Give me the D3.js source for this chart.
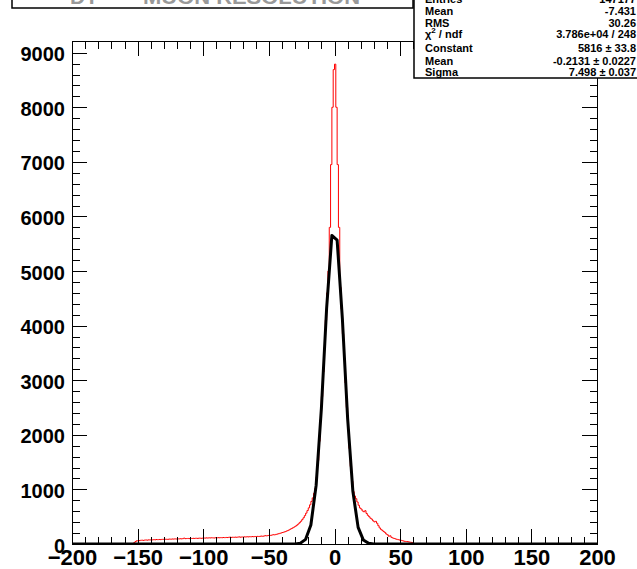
<!DOCTYPE html>
<html><head><meta charset="utf-8">
<script src="https://cdn.jsdelivr.net/npm/d3@7"></script>
<style>
body{margin:0;background:#fff}
svg{display:block}
.ax text{font-family:"Liberation Sans",Arial,sans-serif;font-weight:bold;fill:#000}
.ax line{stroke:#000;stroke-width:1;shape-rendering:crispEdges}
.ax .domain{display:none}
</style>
</head><body>
<svg id="c" width="637" height="569"></svg>
<script>
// ---- data ----
const xRange = [-200, 200];
const yRange = [0, 9214];
const xMajorTicks = [-200, -150, -100, -50, 0, 50, 100, 150, 200];
const yMajorTicks = [0, 1000, 2000, 3000, 4000, 5000, 6000, 7000, 8000, 9000];
const histStart = -155;
const binWidth = 1;
const histCounts = [
  0, 0, 25, 45, 60, 55, 62, 68, 70, 66,          // -155..-146
  72, 74, 70, 76, 73, 78, 75, 80, 77, 82,        // -145..-136
  79, 83, 80, 84, 86, 82, 88, 85, 87, 91,        // -135..-126
  88, 92, 90, 94, 91, 95, 93, 97, 94, 98,        // -125..-116
  108, 98, 100, 102, 99, 103, 101, 104, 102, 106, // -115..-106
  103, 105, 108, 104, 107, 110, 108, 112, 109, 113, // -105..-96
  111, 114, 112, 110, 115, 113, 116, 114, 117, 115, // -95..-86
  119, 116, 120, 118, 122, 126, 121, 124, 122, 126, // -85..-76
  123, 127, 130, 125, 129, 127, 131, 128, 133, 130, // -75..-66
  134, 132, 136, 133, 138, 135, 140, 137, 142, 145, // -65..-56
  141, 148, 152, 149, 156, 160, 158, 165, 170, 168, // -55..-46
  176, 182, 188, 195, 203, 210, 218, 226, 236, 246, // -45..-36
  258, 272, 285, 298, 312, 328, 345, 366, 390, 416, // -35..-26
  446, 480, 520, 565, 612, 662, 718, 780, 845, 930, // -25..-16
  1020, 1230, 1530, 1880, 2280, 2700, 3150, 3600, 4100, 4600, // -15..-6
  5000, 5800, 6950, 8000, 8690, 8790, 8000, 6950, 5800, 4700, // -5..4
  4300, 3850, 3400, 2950, 2500, 2100, 1750, 1420, 1150, 960,  // 5..14
  880, 830, 770, 710, 660, 640, 605, 590, 610, 560,   // 15..24
  525, 500, 472, 455, 425, 405, 415, 380, 335, 295,   // 25..34
  268, 250, 228, 212, 184, 168, 142, 150, 122, 110,   // 35..44
  102, 94, 86, 80, 74, 70, 62, 56, 50, 46,            // 45..54
  44, 40, 34, 30, 24                                  // 55..59
];
const fitX = [-200, -38, -34, -30, -26, -22, -18, -14, -10, -6, -2, 2, 6, 10, 14, 18, 22, 26, 30, 34, 38, 200];
const fitY = [0, 0, 0.1, 2.2, 15.7, 85, 349, 1073, 2481, 4318, 5653, 5568, 4126, 2300, 964, 304, 72, 12.9, 1.7, 0.1, 0, 0];
const statLabels = ["Entries", "Mean", "RMS", "χ2 / ndf", "Constant", "Mean", "Sigma"];
const statValues = ["147177", "-7.431", "30.26", "3.786e+04 / 248", "5816 ± 33.8", "-0.2131 ± 0.0227", "7.498 ± 0.037"];
const titleParts = ["DT", "MUON RESOLUTION"];

// ---- layout ----
const W = 637, H = 569;
const m = {left: 72, right: 40, top: 41, bottom: 25};
const svg = d3.select("#c");
const x = d3.scaleLinear().domain(xRange).range([m.left, W - m.right]);
const y = d3.scaleLinear().domain(yRange).range([H - m.bottom, m.top]);
const x0 = m.left, x1 = W - m.right, y0 = H - m.bottom, y1 = m.top;

// minor ticks
const xMinor = d3.range(xRange[0], xRange[1] + 0.001, 10).filter(v => v % 50 !== 0);
const yMinor = d3.range(0, 9200, 200).filter(v => v % 1000 !== 0);

// clip
svg.append("defs").append("clipPath").attr("id", "pc")
  .append("rect").attr("x", x0).attr("y", y1).attr("width", x1 - x0).attr("height", y0 - y1);

// histogram step path
const pts = [];
pts.push([x(xRange[0]), y(0)]);
pts.push([x(histStart), y(0)]);
histCounts.forEach((c, i) => {
  const a = histStart + i * binWidth, b = a + binWidth;
  pts.push([x(a), y(c)]);
  pts.push([x(b), y(c)]);
});
const histEnd = histStart + histCounts.length * binWidth;
pts.push([x(histEnd), y(0)]);
pts.push([x(xRange[1]), y(0)]);
svg.append("path").attr("clip-path", "url(#pc)")
  .attr("d", d3.line()(pts))
  .attr("fill", "none").attr("stroke", "#ff0000").attr("stroke-width", 1);

// fit curve
svg.append("path").attr("clip-path", "url(#pc)")
  .datum(fitX.map((v, i) => [v, fitY[i]]))
  .attr("d", d3.line().x(d => x(d[0])).y(d => y(d[1])))
  .attr("fill", "none").attr("stroke", "#000").attr("stroke-width", 3)
  .attr("stroke-linejoin", "round").attr("stroke-linecap", "butt");

// axes
function addAxis(gen, tx, ty) {
  return svg.append("g").attr("class", "ax").attr("transform", `translate(${tx},${ty})`).call(gen);
}
// bottom
const bx = addAxis(d3.axisBottom(x).tickValues(xMajorTicks).tickSize(-15).tickPadding(5).tickFormat(d3.format("d")), 0, y0);
bx.selectAll("text").style("font-size", "22px");
addAxis(d3.axisBottom(x).tickValues(xMinor).tickSize(-7.5).tickFormat(""), 0, y0);
// top
addAxis(d3.axisTop(x).tickValues(xMajorTicks).tickSize(-15).tickFormat(""), 0, y1);
addAxis(d3.axisTop(x).tickValues(xMinor).tickSize(-7.5).tickFormat(""), 0, y1);
// left
const ly = addAxis(d3.axisLeft(y).tickValues(yMajorTicks).tickSize(-15).tickPadding(7).tickFormat(d3.format("d")), x0, 0);
ly.selectAll("text").style("font-size", "20px").attr("dy", "0.4em");
addAxis(d3.axisLeft(y).tickValues(yMinor).tickSize(-7.5).tickFormat(""), x0, 0);
// right
addAxis(d3.axisRight(y).tickValues(yMajorTicks).tickSize(-15).tickFormat(""), x1, 0);
addAxis(d3.axisRight(y).tickValues(yMinor).tickSize(-7.5).tickFormat(""), x1, 0);

// frame
svg.append("rect").attr("x", x0 + 0.5).attr("y", y1 + 0.5).attr("width", x1 - x0).attr("height", y0 - y1)
  .attr("fill", "none").attr("stroke", "#000").attr("stroke-width", 1);

// title box
svg.append("rect").attr("x", 12).attr("y", -10).attr("width", 401).attr("height", 18)
  .attr("fill", "#fff").attr("stroke", "#000").attr("stroke-width", 1.5);
const tt = svg.append("text").attr("y", 3.5).attr("font-family", "Liberation Sans, Arial, sans-serif")
  .attr("font-weight", "bold").attr("font-size", 21).attr("fill", "#999");
tt.append("tspan").attr("x", 70).text(titleParts[0]);
tt.append("tspan").attr("x", 143).attr("textLength", 217).attr("lengthAdjust", "spacingAndGlyphs").text(titleParts[1]);

// stats box
svg.append("rect").attr("x", 414).attr("y", -10).attr("width", 240).attr("height", 88)
  .attr("fill", "#fff").attr("stroke", "#000").attr("stroke-width", 1.5);
const baselines = [3, 15, 26.5, 38, 51.5, 64.5, 75.5];
const sg = svg.append("g").attr("font-family", "Liberation Sans, Arial, sans-serif")
  .attr("font-weight", "bold").attr("font-size", 11).attr("fill", "#000");
statLabels.forEach((lab, i) => {
  const t = sg.append("text").attr("x", 425).attr("y", baselines[i]);
  if (lab.startsWith("χ2")) {
    t.append("tspan").text("χ");
    t.append("tspan").attr("dy", -5).attr("font-size", 8).text("2");
    t.append("tspan").attr("dy", 5).text(" / ndf");
  } else {
    t.text(lab);
  }
  sg.append("text").attr("x", 636).attr("y", baselines[i]).attr("text-anchor", "end").text(statValues[i]);
});
</script>
</body></html>
